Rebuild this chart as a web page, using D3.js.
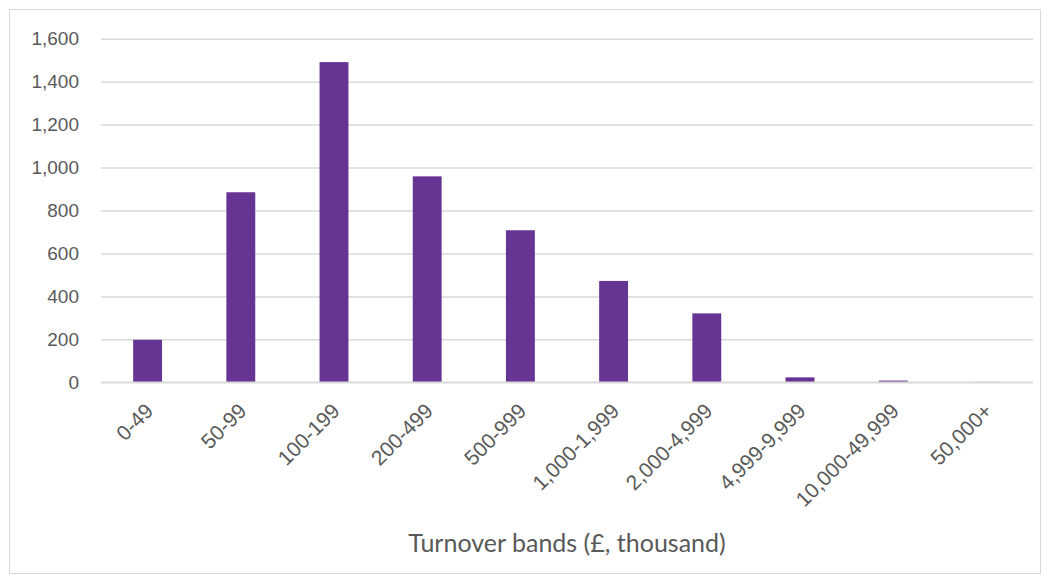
<!DOCTYPE html>
<html>
<head>
<meta charset="utf-8">
<script src="https://cdn.jsdelivr.net/npm/d3@7"></script>
<style>
  html, body { margin: 0; padding: 0; background: #fff; }
  svg { display: block; font-family: "Lato", "Open Sans", sans-serif; }
</style>
</head>
<body>
<svg id="chart" width="1050" height="583"></svg>
<script>
// Number of businesses by turnover band
const categories = ["0-49", "50-99", "100-199", "200-499", "500-999", "1,000-1,999",
                    "2,000-4,999", "4,999-9,999", "10,000-49,999", "50,000+"];
const counts = [198, 885, 1491, 959, 708, 472, 321, 23, 8, 2];
const yTicks = [0, 200, 400, 600, 800, 1000, 1200, 1400, 1600];
const xTitle = "Turnover bands (£, thousand)";

const svg = d3.select("#chart");
const W = 1050, H = 583;
const margin = { left: 101, right: 17, top: 38.7, bottom: 200.7 };
const plotW = W - margin.left - margin.right;
const plotH = H - margin.top - margin.bottom;

// outer frame
svg.append("rect")
  .attr("x", 9.5).attr("y", 9.5)
  .attr("width", W - 19).attr("height", H - 19)
  .attr("fill", "#fff").attr("stroke", "#d9d9d9").attr("stroke-width", 1);

const g = svg.append("g").attr("transform", `translate(${margin.left},${margin.top})`);

const x = d3.scaleBand().domain(categories).range([0, plotW]).paddingInner(0.69).paddingOuter(0.345);
const y = d3.scaleLinear().domain([0, 1600]).range([plotH, 0]);

// horizontal gridlines + y labels
const yAxis = d3.axisLeft(y).tickValues(yTicks).tickSize(-plotW).tickPadding(22)
  .tickFormat(d3.format(","));
const ya = g.append("g").call(yAxis);
ya.select(".domain").remove();
ya.selectAll(".tick line").attr("stroke", "#d9d9d9").attr("stroke-width", 1.5);
ya.selectAll(".tick text").attr("fill", "#595959").style("font-size", "19px");

// bars
g.selectAll("rect.bar").data(counts).join("rect")
  .attr("class", "bar")
  .attr("x", (d, i) => x(categories[i]))
  .attr("y", d => y(d))
  .attr("width", x.bandwidth())
  .attr("height", d => plotH - y(d))
  .attr("fill", "#663593");

// x axis line
g.append("line").attr("x1", 0).attr("x2", plotW).attr("y1", plotH).attr("y2", plotH)
  .attr("stroke", "#d9d9d9").attr("stroke-width", 1.5);

// rotated category labels
const xa = g.append("g").attr("transform", `translate(0,${plotH})`)
  .call(d3.axisBottom(x).tickSize(0).tickPadding(0));
xa.select(".domain").remove();
xa.selectAll(".tick text")
  .attr("fill", "#595959").style("font-size", "21px")
  .attr("text-anchor", "end")
  .attr("dy", null).attr("y", 0)
  .attr("transform", "translate(7,30) rotate(-45)");

// axis title
svg.append("text")
  .attr("x", 567).attr("y", 552)
  .attr("text-anchor", "middle")
  .attr("fill", "#595959")
  .style("font-size", "25px")
  .text(xTitle);
</script>
</body>
</html>
